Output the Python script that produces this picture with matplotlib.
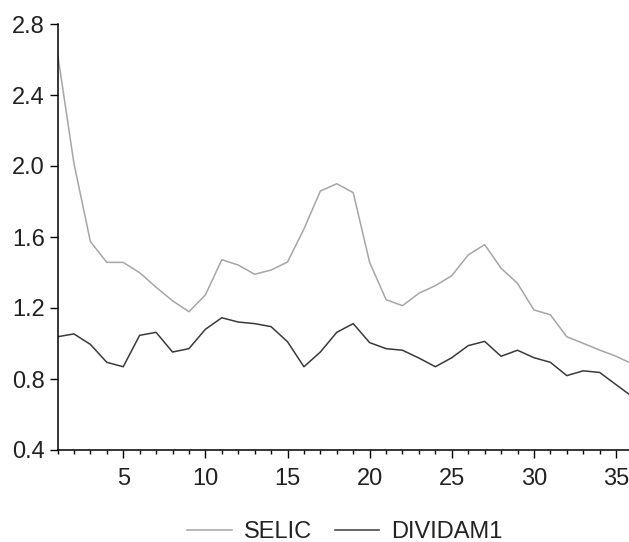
import matplotlib
matplotlib.use("Agg")
import matplotlib.pyplot as plt
from matplotlib.ticker import MultipleLocator, FixedLocator

plt.rcParams['font.family'] = ['Liberation Sans', 'DejaVu Sans']

periods = list(range(1, 37))
selic = [2.635, 2.015, 1.575, 1.457, 1.457, 1.399, 1.317, 1.241, 1.179, 1.273,
         1.472, 1.442, 1.390, 1.414, 1.459, 1.645, 1.859, 1.900, 1.850, 1.457,
         1.247, 1.213, 1.283, 1.326, 1.382, 1.499, 1.557, 1.424, 1.339, 1.189,
         1.162, 1.038, 1.001, 0.963, 0.928, 0.885]
dividam1 = [1.038, 1.054, 0.995, 0.894, 0.869, 1.046, 1.063, 0.952, 0.971, 1.080,
            1.145, 1.121, 1.112, 1.095, 1.010, 0.869, 0.952, 1.063, 1.112, 1.005,
            0.971, 0.962, 0.918, 0.869, 0.920, 0.988, 1.012, 0.928, 0.962, 0.920,
            0.894, 0.819, 0.846, 0.837, 0.768, 0.700]
y_ticks = [0.4, 0.8, 1.2, 1.6, 2.0, 2.4, 2.8]
x_ticks = [5, 10, 15, 20, 25, 30, 35]

fig = plt.figure(figsize=(6.29, 5.42), dpi=100)
ax = fig.add_axes([57.5 / 629, (542 - 450) / 542, (632.5 - 57.5) / 629, (450 - 24) / 542])

ax.plot(periods, selic, color='#a6a6a6', lw=1.1, label='SELIC')
ax.plot(periods, dividam1, color='#3a3a3a', lw=1.1, label='DIVIDAM1')

ax.set_xlim(1, 36)
ax.set_ylim(0.4, 2.8)
ax.yaxis.set_major_locator(FixedLocator(y_ticks))
ax.yaxis.set_major_formatter(matplotlib.ticker.FormatStrFormatter('%.1f'))
ax.xaxis.set_major_locator(FixedLocator(x_ticks))
ax.xaxis.set_minor_locator(MultipleLocator(1))

for s in ['top', 'right']:
    ax.spines[s].set_visible(False)
for s in ['left', 'bottom']:
    ax.spines[s].set_linewidth(1.1)
    ax.spines[s].set_color('black')

ax.tick_params(axis='y', which='major', direction='out', length=6, width=1.0,
               labelsize=17, pad=3)
ax.tick_params(axis='x', which='major', direction='out', length=6, width=1.0,
               labelsize=17, pad=7)
ax.tick_params(axis='x', which='minor', direction='out', length=3, width=1.0)
ax.tick_params(labelcolor='#222222', which='both')
ax.tick_params(axis='both', which='both', color='black')

fig.legend(loc='center', bbox_to_anchor=(345 / 629, 1 - 532 / 542), ncol=2,
           frameon=False, fontsize=17, handlelength=1.9, handletextpad=0.5,
           columnspacing=0.95, labelcolor='#222222')

fig.savefig('out.png', dpi=100)
